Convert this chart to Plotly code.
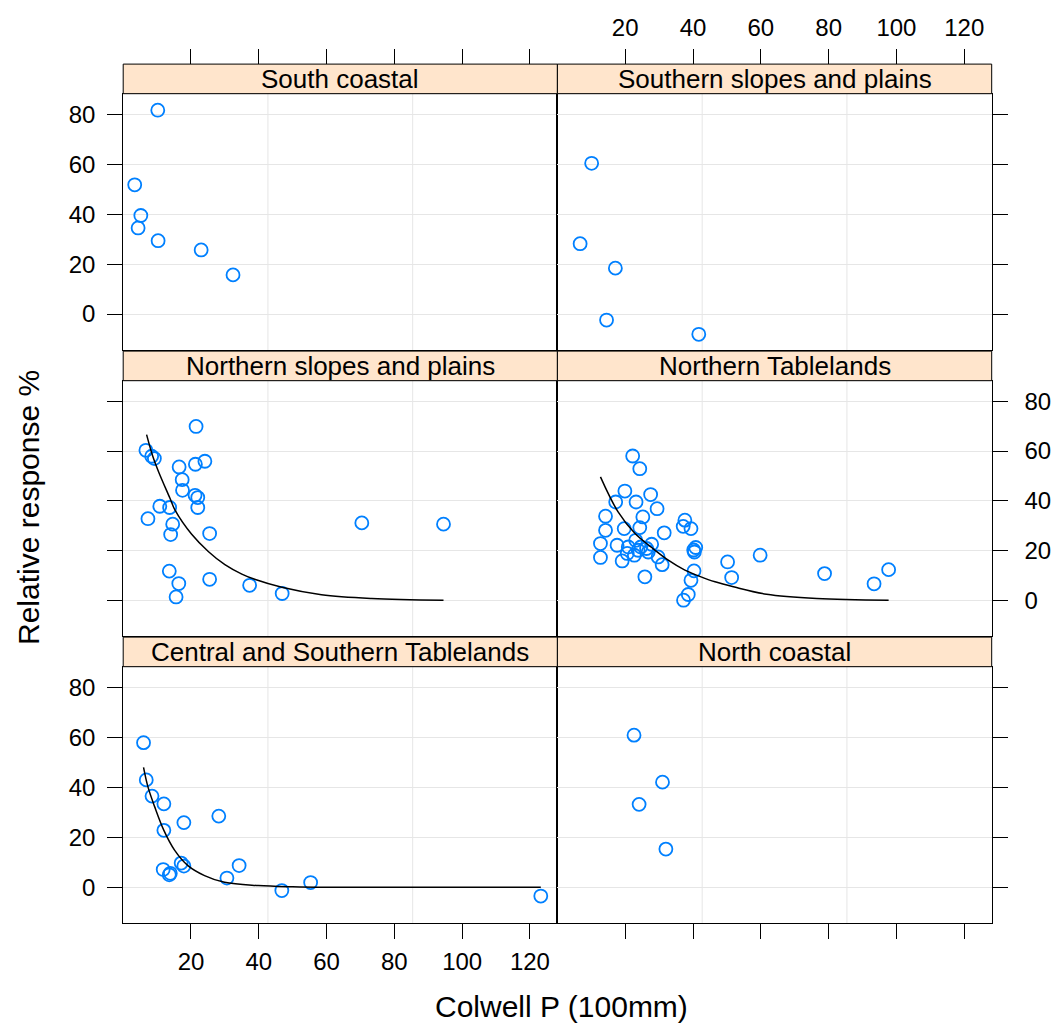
import plotly.graph_objects as go

# ---------------- data ----------------
panel_titles = ["South coastal", "Southern slopes and plains",
                "Northern slopes and plains", "Northern Tablelands",
                "Central and Southern Tablelands", "North coastal"]

sc_x = [10.2, 3.4, 5.2, 4.4, 10.3, 23.0, 32.4]
sc_y = [81.7, 51.8, 39.5, 34.5, 29.4, 25.7, 15.7]

ss_x = [10.1, 6.7, 17.1, 14.5, 41.7]
ss_y = [60.4, 28.2, 18.4, -2.4, -8.1]

ns_x = [21.5, 6.7, 8.4, 9.2, 16.5, 21.3, 24.1, 17.4, 17.5, 21.2, 22.0, 22.0, 10.8,
        13.7, 7.3, 14.6, 14.0, 25.5, 13.6, 16.4, 25.5, 15.6, 37.3, 46.9, 70.4, 94.5]
ns_y = [69.9, 60.3, 57.9, 57.0, 53.6, 54.7, 55.9, 48.5, 44.2, 42.2, 41.3, 37.3, 37.8,
        37.3, 32.8, 30.6, 26.4, 26.8, 11.7, 6.7, 8.4, 1.3, 6.0, 2.7, 31.1, 30.6]
ns_fit_x = [6.9, 8.7, 10.4, 13.8, 15.3, 20.2, 25.1, 30.0, 35.0, 39.0, 46.8, 58.5, 73.3, 94.5]
ns_fit_y = [66.6, 58.0, 51.8, 41.0, 36.2, 26.5, 19.6, 14.3, 10.5, 8.3, 5.2, 2.2, 0.7, 0.0]

nt_x = [22.2, 24.3, 19.9, 27.5, 17.2, 23.2, 29.4, 14.2, 25.2, 37.6, 14.2, 19.7, 24.3,
        31.5, 37.1, 39.4, 12.7, 17.6, 20.9, 23.1, 24.6, 26.3, 27.8, 20.6, 22.7, 12.7,
        19.1, 29.7, 30.9, 40.8, 40.4, 40.2, 40.3, 39.4, 25.8, 38.6, 37.2, 50.2, 51.4,
        59.8, 78.8, 93.4, 97.7, 23.8, 26.8]
nt_y = [58.0, 52.9, 43.9, 42.5, 39.5, 39.5, 36.8, 33.8, 33.5, 32.2, 28.1, 28.8, 29.2,
        27.1, 29.7, 28.8, 22.8, 22.1, 21.4, 24.1, 21.4, 20.8, 22.5, 18.8, 18.1, 17.2,
        15.8, 17.4, 14.3, 21.2, 19.4, 20.2, 11.8, 8.0, 9.4, 2.3, 0.0, 15.4, 9.1,
        18.1, 10.7, 6.6, 12.3, 20.1, 19.4]
nt_fit_x = [12.7, 17.9, 22.9, 27.8, 32.7, 37.6, 42.0, 46.5, 51.9, 61.7, 76.5, 97.7]
nt_fit_y = [49.6, 35.5, 26.8, 21.2, 16.1, 12.1, 9.6, 7.4, 5.4, 2.4, 0.7, 0.0]

cs_x = [6.0, 6.8, 8.5, 12.0, 12.0, 17.9, 28.2, 11.8, 13.6, 13.9, 17.1, 17.9, 30.6,
        34.2, 46.8, 55.3, 123.2]
cs_y = [57.9, 43.0, 36.5, 33.4, 22.8, 25.9, 28.5, 7.1, 5.0, 5.6, 9.7, 8.5, 3.7,
        8.7, -1.3, 1.9, -3.5]
cs_fit_x = [6.0, 7.3, 9.3, 12.0, 15.2, 19.1, 24.0, 29.9, 39.8, 50.0, 60.0, 90.0, 123.2]
cs_fit_y = [48.0, 40.2, 32.2, 22.8, 14.8, 8.7, 4.7, 2.0, 0.7, 0.2, 0.0, 0.0, 0.0]

nc_x = [22.6, 31.0, 24.1, 32.0]
nc_y = [60.9, 42.1, 33.2, 15.3]

x_ticks = [20, 40, 60, 80, 100, 120]
y_ticks = [0, 20, 40, 60, 80]

# ---------------- layout geometry ----------------
W, H = 1053, 1026
col_px = [(123.2, 557.4), (557.4, 991.7)]
row_px = [(93.7, 350.0), (380.7, 636.0), (666.7, 923.3)]   # plot area (top, bottom)
strip_h = 29.6
XR = [0, 128.1]
YR = [-14.4, 88.3]

FONT = "Liberation Sans, Arial, sans-serif"
PT_COL = "#0080ff"
STRIP_COL = "#ffe5cc"
GRID_COL = "#e6e6e6"
TICKLEN = 15

def xd(px):
    return px / W

def yd(py):
    return 1 - py / H

fig = go.Figure()

panels = [
    (sc_x, sc_y, None, None),
    (ss_x, ss_y, None, None),
    (ns_x, ns_y, ns_fit_x, ns_fit_y),
    (nt_x, nt_y, nt_fit_x, nt_fit_y),
    (cs_x, cs_y, cs_fit_x, cs_fit_y),
    (nc_x, nc_y, None, None),
]

layout = dict(width=W, height=H, margin=dict(l=0, r=0, t=0, b=0),
              paper_bgcolor="white", plot_bgcolor="white", showlegend=False,
              font=dict(family=FONT, color="black"))
shapes = []
annotations = []

for i, (px_, py_, fx, fy) in enumerate(panels):
    r, c = divmod(i, 2)
    n = i + 1
    xa = "x" if n == 1 else f"x{n}"
    ya = "y" if n == 1 else f"y{n}"
    xkey = "xaxis" if n == 1 else f"xaxis{n}"
    ykey = "yaxis" if n == 1 else f"yaxis{n}"

    fig.add_trace(go.Scatter(x=px_, y=py_, mode="markers", xaxis=xa, yaxis=ya,
                             hoverinfo="x+y",
                             marker=dict(symbol="circle-open", size=13, color=PT_COL,
                                         line=dict(width=1.8, color=PT_COL))))
    if fx is not None:
        fig.add_trace(go.Scatter(x=fx, y=fy, mode="lines", xaxis=xa, yaxis=ya,
                                 line=dict(color="black", width=1.5, shape="spline",
                                           smoothing=1.0)))

    x0, x1 = col_px[c]
    t, b = row_px[r]

    # x axis (panel frame)
    xax = dict(domain=[xd(x0), xd(x1)], range=XR, anchor=ya, showgrid=False,
               zeroline=False, showline=True, linecolor="black", linewidth=1,
               mirror=True, tickvals=x_ticks, tickfont=dict(size=24, family=FONT),
               ticklen=TICKLEN, tickwidth=1, tickcolor="black", ticklabelstandoff=2)
    if r == 2:
        xax.update(side="bottom", ticks="outside", showticklabels=(c == 0))
    else:
        xax.update(ticks="", showticklabels=False)
    layout[xkey] = xax

    # top row: tick axis sitting on top of the strip
    if r == 0:
        tn = 7 + c
        tkey = f"xaxis{tn}"
        layout[tkey] = dict(domain=[xd(x0), xd(x1)], range=XR, overlaying=xa,
                            anchor="free", position=yd(t - strip_h), side="top",
                            showgrid=False, zeroline=False, showline=False,
                            tickvals=x_ticks, ticks="outside", ticklen=TICKLEN,
                            tickwidth=1, tickcolor="black",
                            showticklabels=(c == 1), ticklabelstandoff=4,
                            tickfont=dict(size=24, family=FONT))
        fig.add_trace(go.Scatter(x=[XR[0]], y=[YR[0]], mode="markers",
                                 xaxis=f"x{tn}", yaxis=ya, hoverinfo="skip",
                                 marker=dict(opacity=0, size=1)))

    # y axis
    yax = dict(domain=[yd(b), yd(t)], range=YR, anchor=xa, showgrid=True,
               gridcolor=GRID_COL, gridwidth=1, zeroline=False, showline=True,
               linecolor="black", linewidth=1, mirror=True, tickvals=y_ticks,
               tickfont=dict(size=24, family=FONT), ticks="outside", ticklen=TICKLEN,
               tickwidth=1, tickcolor="black")
    if c == 0:
        yax.update(side="left", showticklabels=(r != 1), ticklabelstandoff=7)
    else:
        yax.update(side="right", showticklabels=(r == 1), ticklabelstandoff=12)
    layout[ykey] = yax

    # vertical grid lines at 1/3 and 2/3 of the panel
    for f in (1 / 3, 2 / 3):
        shapes.append(dict(type="line", xref=f"{xa} domain", yref=f"{ya} domain",
                           x0=f, x1=f, y0=0, y1=1, layer="below",
                           line=dict(color=GRID_COL, width=1)))

    # strip
    shapes.append(dict(type="rect", xref="paper", yref="paper",
                       x0=xd(x0), x1=xd(x1), y0=yd(t), y1=yd(t - strip_h),
                       fillcolor=STRIP_COL, line=dict(color="black", width=1),
                       layer="above"))
    annotations.append(dict(text=panel_titles[i], xref="paper", yref="paper",
                            x=xd((x0 + x1) / 2), y=yd(t - strip_h / 2),
                            xanchor="center", yanchor="middle", showarrow=False,
                            font=dict(size=26, family=FONT, color="black")))

annotations.append(dict(text="Relative response %", xref="paper", yref="paper",
                        x=xd(28), y=yd(508), textangle=-90, showarrow=False,
                        xanchor="center", yanchor="middle",
                        font=dict(size=30, family=FONT, color="black")))
annotations.append(dict(text="Colwell P (100mm)", xref="paper", yref="paper",
                        x=xd(561), y=yd(1025), showarrow=False,
                        xanchor="center", yanchor="bottom",
                        font=dict(size=30, family=FONT, color="black")))

layout["shapes"] = shapes
layout["annotations"] = annotations
fig.update_layout(**layout)
fig.write_html("out.html")
